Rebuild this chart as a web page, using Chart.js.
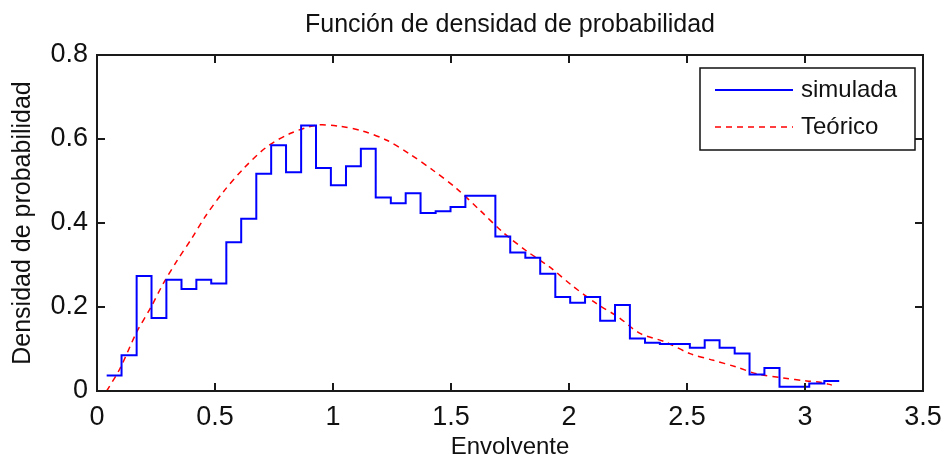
<!DOCTYPE html>
<html>
<head>
<meta charset="utf-8">
<title>Función de densidad de probabilidad</title>
<script src="https://cdn.jsdelivr.net/npm/chart.js@4.4.1/dist/chart.umd.min.js"></script>
<style>
  html, body { margin: 0; padding: 0; background: #fff; }
  #wrap { width: 944px; height: 460px; }
</style>
</head>
<body>
<div id="wrap"><canvas id="myChart"></canvas></div>
<script>
// histogram bin edges of the simulated envelope
const binEdges = [
  0.041, 0.104, 0.168, 0.231, 0.294, 0.358, 0.421, 0.484, 0.548, 0.611,
  0.675, 0.738, 0.801, 0.865, 0.928, 0.991, 1.055, 1.118, 1.181, 1.245,
  1.308, 1.371, 1.435, 1.498, 1.561, 1.625, 1.688, 1.751, 1.815, 1.878,
  1.942, 2.005, 2.068, 2.132, 2.195, 2.258, 2.322, 2.385, 2.448, 2.512,
  2.575, 2.638, 2.702, 2.765, 2.828, 2.892, 2.955, 3.018, 3.082, 3.145
];
// density in each bin (simulada)
const simDensity = [
  0.037, 0.085, 0.274, 0.174, 0.265, 0.243, 0.265, 0.256, 0.354, 0.410,
  0.517, 0.585, 0.521, 0.632, 0.531, 0.490, 0.535, 0.577, 0.461, 0.447,
  0.471, 0.424, 0.428, 0.438, 0.465, 0.465, 0.368, 0.330, 0.317, 0.279,
  0.224, 0.210, 0.224, 0.167, 0.205, 0.125, 0.115, 0.112, 0.112, 0.103,
  0.121, 0.103, 0.089, 0.039, 0.055, 0.010, 0.010, 0.018, 0.024
];
// theoretical curve (Teórico)
const theoX = [
  0.041, 0.097, 0.168, 0.229, 0.281, 0.340, 0.401, 0.457, 0.535, 0.620,
  0.719, 0.818, 0.931, 1.030, 1.126, 1.228, 1.323, 1.425, 1.524, 1.623,
  1.722, 1.821, 1.919, 2.011, 2.117, 2.209, 2.301, 2.407, 2.513, 2.612,
  2.710, 2.795, 2.908, 3.007, 3.064, 3.114
];
const theoY = [
  0.000, 0.053, 0.140, 0.200, 0.256, 0.311, 0.363, 0.414, 0.474, 0.529,
  0.581, 0.613, 0.633, 0.630, 0.619, 0.597, 0.565, 0.525, 0.482, 0.430,
  0.377, 0.333, 0.295, 0.252, 0.208, 0.176, 0.137, 0.117, 0.089, 0.073,
  0.057, 0.041, 0.031, 0.024, 0.021, 0.014
];
const xTickLabels = ['0', '0.5', '1', '1.5', '2', '2.5', '3', '3.5'];
const yTickLabels = ['0', '0.2', '0.4', '0.6', '0.8'];

const FONT = "'Liberation Sans', Arial, sans-serif";
const INK = '#111';

// stairs: each value holds until the next edge, last value repeated at the closing edge
const simPoints = binEdges.map((x, i) => ({ x, y: simDensity[Math.min(i, simDensity.length - 1)] }));
const theoPoints = theoX.map((x, i) => ({ x, y: theoY[i] }));

const ticksFrom = labels => scale => {
  scale.ticks = labels.map(l => ({ value: parseFloat(l), label: l }));
};

// matlab-like box, inward ticks on all four sides, and legend inside the axes
const axesBox = {
  id: 'axesBox',
  afterDatasetsDraw(chart) {
    const { ctx, chartArea: a, scales: { x, y } } = chart;
    const tl = 8;
    ctx.save();
    ctx.strokeStyle = '#1a1a1a';
    ctx.lineWidth = 2;
    ctx.beginPath();
    x.ticks.forEach(t => {
      const px = Math.round(x.getPixelForValue(t.value));
      ctx.moveTo(px, a.bottom); ctx.lineTo(px, a.bottom - tl);
      ctx.moveTo(px, a.top); ctx.lineTo(px, a.top + tl);
    });
    y.ticks.forEach(t => {
      const py = Math.round(y.getPixelForValue(t.value));
      ctx.moveTo(a.left, py); ctx.lineTo(a.left + tl, py);
      ctx.moveTo(a.right, py); ctx.lineTo(a.right - tl, py);
    });
    ctx.stroke();
    ctx.strokeRect(a.left, a.top, a.right - a.left, a.bottom - a.top);

    // legend
    const bx = a.right - 223, by = a.top + 13, bw = 215, bh = 82;
    ctx.fillStyle = '#fff';
    ctx.fillRect(bx, by, bw, bh);
    ctx.lineWidth = 1.5;
    ctx.strokeStyle = '#111';
    ctx.strokeRect(bx, by, bw, bh);
    ctx.font = '24px ' + FONT;
    ctx.textBaseline = 'middle';
    chart.data.datasets.forEach((ds, i) => {
      const ly = by + 22 + i * 37;
      ctx.beginPath();
      ctx.strokeStyle = ds.borderColor;
      ctx.lineWidth = ds.borderWidth;
      ctx.setLineDash(ds.borderDash || []);
      ctx.moveTo(bx + 15, ly);
      ctx.lineTo(bx + 93, ly);
      ctx.stroke();
      ctx.setLineDash([]);
      ctx.fillStyle = INK;
      ctx.fillText(ds.label, bx + 101, ly);
    });
    ctx.restore();
  }
};

const ctx = document.getElementById('myChart').getContext('2d');
let myChart = new Chart(ctx, {
  type: 'line',
  data: {
    datasets: [
      {
        label: 'simulada',
        data: simPoints,
        borderColor: '#0000ff',
        borderWidth: 2,
        stepped: true,
        pointRadius: 0,
        fill: false
      },
      {
        label: 'Teórico',
        data: theoPoints,
        borderColor: '#ff0000',
        borderWidth: 1.5,
        borderDash: [6, 5],
        pointRadius: 0,
        fill: false,
        tension: 0.3
      }
    ]
  },
  options: {
    responsive: true,
    maintainAspectRatio: false,
    animation: false,
    layout: { padding: { left: 0, right: 21, top: 0, bottom: 0 } },
    plugins: {
      legend: { display: false },
      tooltip: { enabled: false },
      title: {
        display: true,
        fullSize: false,
        text: 'Función de densidad de probabilidad',
        color: INK,
        font: { family: FONT, size: 25, weight: 'normal' },
        padding: { top: 10, bottom: 15 }
      }
    },
    scales: {
      x: {
        type: 'linear',
        min: 0,
        max: 3.5,
        afterBuildTicks: ticksFrom(xTickLabels),
        afterFit: s => { s.height = 69; s.paddingLeft = 0; s.paddingRight = 0; },
        grid: { display: false, drawTicks: false },
        border: { display: false },
        ticks: {
          color: INK,
          padding: 10,
          maxRotation: 0,
          autoSkip: false,
          font: { family: FONT, size: 27 },
          callback: (v, i) => xTickLabels[i]
        },
        title: {
          display: true,
          text: 'Envolvente',
          color: INK,
          font: { family: FONT, size: 24, lineHeight: 1 },
          padding: { top: 0, bottom: 1 }
        }
      },
      y: {
        type: 'linear',
        min: 0,
        max: 0.8,
        afterBuildTicks: ticksFrom(yTickLabels),
        afterFit: s => { s.width = 97; s.paddingTop = 0; s.paddingBottom = 0; },
        grid: { display: false, drawTicks: false },
        border: { display: false },
        ticks: {
          color: INK,
          padding: 9,
          autoSkip: false,
          font: { family: FONT, size: 27 },
          callback: (v, i) => yTickLabels[i]
        },
        title: {
          display: true,
          text: 'Densidad de probabilidad',
          color: INK,
          font: { family: FONT, size: 25 },
          padding: { top: 8, bottom: 0 }
        }
      }
    }
  },
  plugins: [axesBox]
});
</script>
</body>
</html>
